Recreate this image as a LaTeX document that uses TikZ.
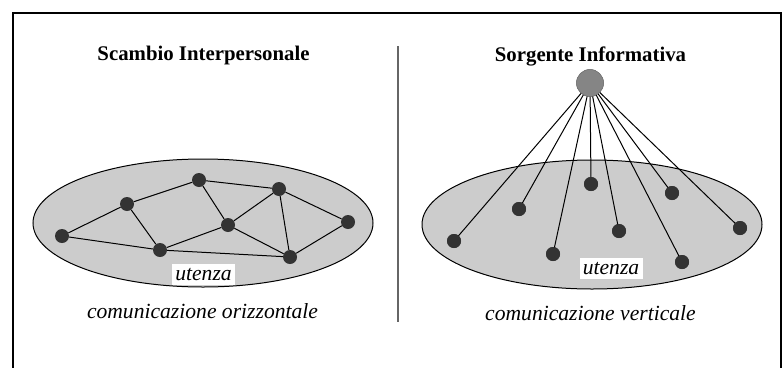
\documentclass[tikz,border=0pt]{standalone}
\usepackage{fontspec}
\setmainfont{Liberation Serif}
\begin{document}
\begin{tikzpicture}[x=1pt,y=-1pt,
  frame/.style={line width=2pt,black},
  divider/.style={line width=2pt,draw=black!60},
  crowd/.style={fill=black!20,draw=black,line width=1pt},
  person/.style={circle,fill=black!80,draw=none,minimum size=14pt,inner sep=0pt},
  source/.style={circle,fill=black!48,draw=black!55,line width=0.5pt,minimum size=27pt,inner sep=0pt},
  link/.style={line width=1pt,black},
  heading/.style={font=\fontsize{20.8}{24}\selectfont\bfseries,anchor=base},
  caption/.style={font=\fontsize{21.6}{26}\selectfont\itshape,anchor=base},
  tag/.style={fill=white,inner sep=0pt,minimum width=63pt,minimum height=21pt,
    font=\fontsize{21.6}{26}\selectfont\itshape}]
\useasboundingbox (0,0) rectangle (783,367);
\fill[white] (0,0) rectangle (783,367);

% outer frame, open at the bottom
\draw[frame] (13,368) -- (13,13) -- (781,13) -- (781,368);
% separator between the two panels
\draw[divider] (397.5,46) -- (397.5,322);

% ---------- left panel: horizontal exchange ----------
\node[heading] (titleL) at (203.5,60.5) {Scambio Interpersonale};
\draw[crowd] (203,223) ellipse [x radius=170, y radius=64];
\node[person] (a1) at (62,236) {};
\node[person] (a2) at (127,204) {};
\node[person] (a3) at (199,180) {};
\node[person] (a4) at (279,189) {};
\node[person] (a5) at (228,225) {};
\node[person] (a6) at (348,222) {};
\node[person] (a7) at (160,250) {};
\node[person] (a8) at (290,257) {};
\draw[link] (a1) -- (a2);
\draw[link] (a1) -- (a7);
\draw[link] (a2) -- (a3);
\draw[link] (a2) -- (a7);
\draw[link] (a3) -- (a4);
\draw[link] (a3) -- (a5);
\draw[link] (a4) -- (a5);
\draw[link] (a4) -- (a6);
\draw[link] (a4) -- (a8);
\draw[link] (a6) -- (a8);
\draw[link] (a5) -- (a7);
\draw[link] (a5) -- (a8);
\draw[link] (a7) -- (a8);
\node[tag] (userL) at (203.5,274.5) {utenza};
\node[caption] (capL) at (202.5,318.5) {comunicazione orizzontale};

% ---------- right panel: vertical broadcast ----------
\node[heading] (titleR) at (590.5,61.5) {Sorgente Informativa};
\draw[crowd] (592,224.5) ellipse [x radius=170, y radius=64.5];
\node[person] (b1) at (454,241) {};
\node[person] (b2) at (519,209) {};
\node[person] (b3) at (553,254) {};
\node[person] (b4) at (591,184) {};
\node[person] (b5) at (619,231) {};
\node[person] (b6) at (672,193) {};
\node[person] (b7) at (682,262) {};
\node[person] (b8) at (740,228) {};
\node[source] (src) at (590,83) {};
% rays from the source, then the dots redrawn on top of them
\foreach \n in {b1,b2,b3,b4,b5,b6,b7,b8}
  \draw[link] (src.center) -- (\n.center);
\node[source] at (src) {};
\foreach \n in {b1,b2,b3,b4,b5,b6,b7,b8}
  \node[person] at (\n) {};
\node[tag] (userR) at (611,268.5) {utenza};
\node[caption] (capR) at (590.5,320.5) {comunicazione verticale};
\end{tikzpicture}
\end{document}
